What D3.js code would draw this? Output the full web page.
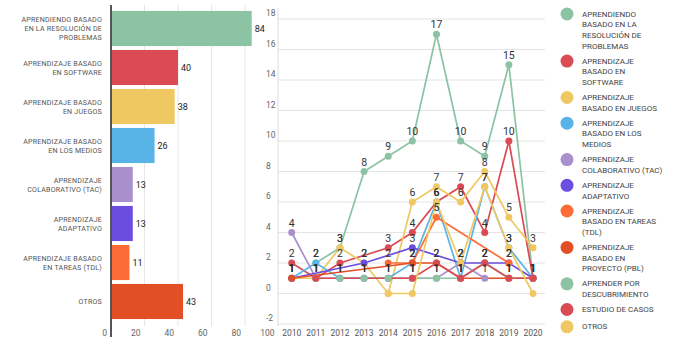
<!DOCTYPE html>
<html><head><meta charset="utf-8">
<script src="https://cdn.jsdelivr.net/npm/d3@7"></script>
<style>
html,body{margin:0;padding:0;background:#fff;}
svg{display:block;font-family:Roboto,"Noto Sans",sans-serif;}
</style></head>
<body>
<svg id="c" width="698" height="343"></svg>
<script>
// ---- Bar chart data ----
const barCategories = [
  "APRENDIENDO BASADO\nEN LA RESOLUCIÓN DE\nPROBLEMAS",
  "APRENDIZAJE BASADO\nEN SOFTWARE",
  "APRENDIZAJE BASADO\nEN JUEGOS",
  "APRENDIZAJE BASADO\nEN LOS MEDIOS",
  "APRENDIZAJE\nCOLABORATIVO (TAC)",
  "APRENDIZAJE\nADAPTATIVO",
  "APRENDIZAJE BASADO\nEN TAREAS (TDL)",
  "OTROS"
];
const barValues = [84, 40, 38, 26, 13, 13, 11, 43];
const barColors = ["#8bc3a3","#da4b53","#f0c862","#58b4e6","#a98fcb","#6b4ddf","#fd6b36","#e34f25"];
const barTicks = [0, 20, 40, 60, 80, 100];

// ---- Line chart data ----
const years = [2010,2011,2012,2013,2014,2015,2016,2017,2018,2019,2020];
const yTicks = [-2,0,2,4,6,8,10,12,14,16,18];
const seriesNames = [
  "APRENDIENDO\nBASADO EN LA\nRESOLUCIÓN DE\nPROBLEMAS",
  "APRENDIZAJE\nBASADO EN\nSOFTWARE",
  "APRENDIZAJE\nBASADO EN JUEGOS",
  "APRENDIZAJE\nBASADO EN LOS\nMEDIOS",
  "APRENDIZAJE\nCOLABORATIVO (TAC)",
  "APRENDIZAJE\nADAPTATIVO",
  "APRENDIZAJE\nBASADO EN TAREAS\n(TDL)",
  "APRENDIZAJE\nBASADO EN\nPROYECTO (PBL)",
  "APRENDER POR\nDESCUBRIMIENTO",
  "ESTUDIO DE CASOS",
  "OTROS"
];
const seriesColors = ["#8bc3a3","#da4b53","#f0c862","#58b4e6","#a98fcb","#6b4ddf","#fd6b36","#e34f25","#8bc3a3","#da4b53","#f0c862"];
const sResolucion   = [null,2,3,8,9,10,17,10,9,15,1];
const sSoftware     = [2,1,2,null,3,4,6,7,4,10,1];
const sJuegos       = [1,1,3,2,0,6,7,6,8,5,3];
const sMedios       = [1,2,1,1,1,2,6,1,7,3,1];
const sColaborativo = [4,1,1,1,1,1,1,2,1,null,null];
const sAdaptativo   = [1,null,null,2,null,3,null,2,2,2,1];
const sTareas       = [null,null,null,null,2,2,5,null,null,2,null];
const sProyecto     = [1,null,null,null,null,2,2,1,null,1,1];
const sDescubrim    = [null,null,1,1,1,1,1,1,2,1,1];
const sCasos        = [null,1,null,null,null,1,2,1,2,1,1];
const sOtros        = [null,null,null,null,0,0,6,2,7,3,0];
const seriesValues = [sResolucion,sSoftware,sJuegos,sMedios,sColaborativo,sAdaptativo,sTareas,sProyecto,sDescubrim,sCasos,sOtros];

const svg = d3.select("#c");

// ================= BAR CHART =================
const xB = d3.scaleLinear().domain([0,100]).range([111,278.5]);
const yB = d3.scaleBand().domain(barCategories).range([9,321]).paddingInner(0.1).paddingOuter(0.05);

const gB = svg.append("g");
gB.selectAll("line.vg").data(barTicks.filter(t=>t>0 && t<100)).join("line")
  .attr("x1",d=>xB(d)).attr("x2",d=>xB(d)).attr("y1",5).attr("y2",326)
  .attr("stroke","#e6e6e6").attr("stroke-width",1);
gB.selectAll("text.bt").data(barTicks).join("text")
  .attr("x",d=>xB(d)-4).attr("y",336).attr("text-anchor","end")
  .attr("font-size",8.5).attr("fill","#666").text(d=>d);

gB.selectAll("rect").data(barCategories).join("rect")
  .attr("x",xB(0)).attr("y",d=>yB(d))
  .attr("width",(d,i)=>xB(barValues[i])-xB(0)).attr("height",yB.bandwidth())
  .attr("fill",(d,i)=>barColors[i]);

gB.append("line").attr("x1",111).attr("x2",111).attr("y1",5).attr("y2",337)
  .attr("stroke","#555").attr("stroke-width",2);

gB.selectAll("text.bv").data(barCategories).join("text")
  .attr("x",(d,i)=>xB(barValues[i])+3).attr("y",d=>yB(d)+yB.bandwidth()/2+3)
  .attr("font-size",9).attr("fill","#222").text((d,i)=>barValues[i]);

barCategories.forEach(c=>{
  const lines = c.split("\n");
  const cy = yB(c)+yB.bandwidth()/2;
  const lh = 9;
  const t = gB.append("text").attr("text-anchor","end").attr("font-size",7.1).attr("fill","#555")
    .attr("letter-spacing",0.2);
  lines.forEach((l,k)=>{
    t.append("tspan").attr("x",102).attr("y",cy-(lines.length-1)*lh/2+k*lh+2.5).text(l);
  });
});

// ================= LINE CHART =================
const xL = d3.scalePoint().domain(years).range([291.7,533]);
const yL = d3.scaleLinear().domain([-2,18]).range([324,19]);
const gL = svg.append("g");

gL.selectAll("line.hg").data(yTicks).join("line")
  .attr("x1",278).attr("x2",545).attr("y1",d=>yL(d)).attr("y2",d=>yL(d))
  .attr("stroke","#e4e4e4").attr("stroke-width",1);
gL.append("line").attr("x1",278).attr("x2",278).attr("y1",8).attr("y2",326)
  .attr("stroke","#ddd").attr("stroke-width",1);
gL.selectAll("text.yt").data(yTicks).join("text")
  .attr("x",266).attr("y",d=>yL(d)-3).attr("font-size",8.5).attr("fill","#666").text(d=>d);
gL.selectAll("text.xt").data(years).join("text")
  .attr("x",d=>xL(d)).attr("y",336).attr("text-anchor","middle")
  .attr("font-size",8.5).attr("fill","#555").text(d=>d);

const line = d3.line().x(d=>xL(d.year)).y(d=>yL(d.v));
const pts = seriesValues.map(vals=>years.map((y,i)=>({year:y,v:vals[i]})).filter(d=>d.v!==null));

pts.forEach((p,i)=>{
  gL.append("path").attr("d",line(p)).attr("fill","none")
    .attr("stroke",seriesColors[i]).attr("stroke-width",1.7);
});
pts.forEach((p,i)=>{
  gL.selectAll(null).data(p).join("circle")
    .attr("cx",d=>xL(d.year)).attr("cy",d=>yL(d.v)).attr("r",3.5)
    .attr("fill",seriesColors[i]);
});
pts.forEach((p,i)=>{
  gL.selectAll(null).data(p.filter(d=>d.v!==0)).join("text")
    .attr("x",d=>xL(d.year)).attr("y",d=>yL(d.v)-6).attr("text-anchor","middle")
    .attr("font-size",10.5).attr("fill","#333").text(d=>d.v);
});

// ================= LEGEND =================
const gLeg = svg.append("g");
let ly = 14;
const lh = 10.7, gap = 4.3;
seriesNames.forEach((n,i)=>{
  const lines = n.split("\n");
  gLeg.append("circle").attr("cx",567).attr("cy",ly).attr("r",6.5).attr("fill",seriesColors[i]);
  const t = gLeg.append("text").attr("font-size",8).attr("fill","#444");
  lines.forEach((l,k)=>{
    t.append("tspan").attr("x",582).attr("y",ly+2.5+k*lh).text(l);
  });
  ly += Math.max(lines.length*lh, 13) + gap;
});
</script>
</body></html>
